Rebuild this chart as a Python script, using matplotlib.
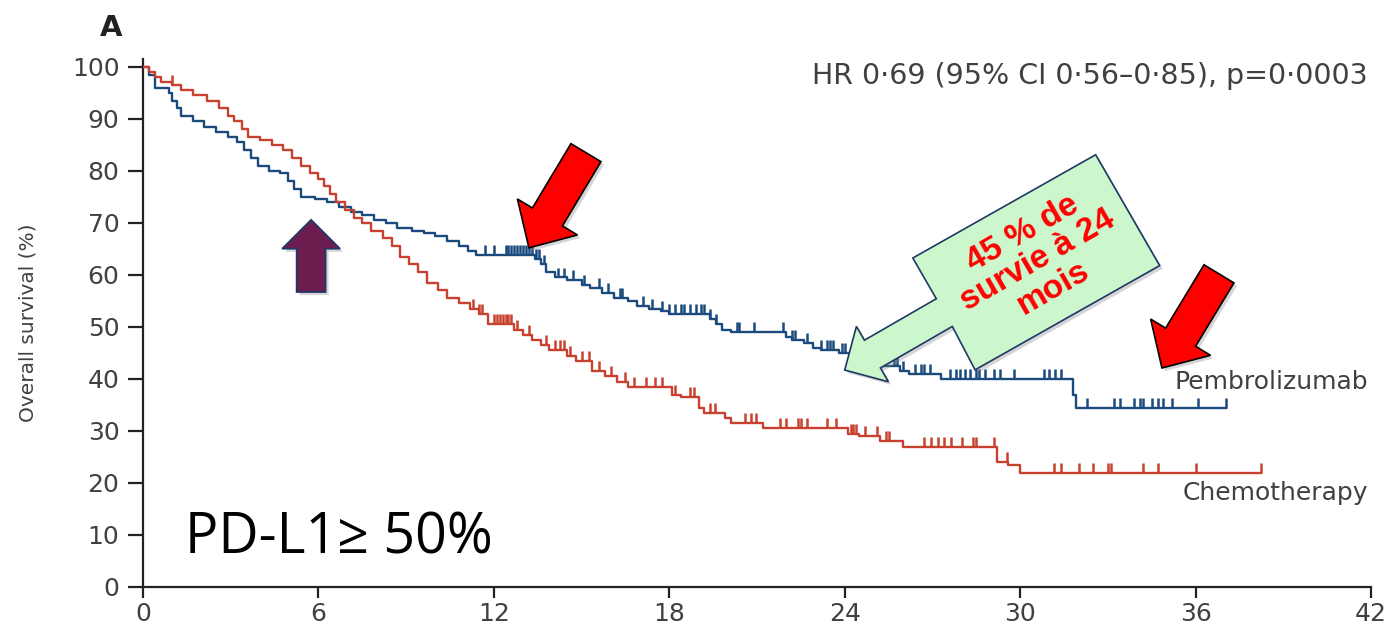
import numpy as np
import matplotlib.pyplot as plt
from matplotlib.patches import Polygon

# Kaplan-Meier steps: time (months) and survival (%) after each step
pembro_t = [0, 0.2, 0.4, 0.9, 1.0, 1.15, 1.3, 1.7, 2.1, 2.5, 2.9, 3.2, 3.45, 3.7, 3.95,
            4.3, 4.7, 4.95, 5.15, 5.4, 5.9, 6.3, 6.7, 7.1, 7.5, 7.9, 8.3, 8.7, 9.2, 9.6,
            10.0, 10.4, 10.8, 11.1, 11.4, 13.4, 13.6, 13.8, 14.1, 14.5, 15.0, 15.3, 15.7,
            16.1, 16.6, 16.9, 17.3, 17.7, 18.0, 19.4, 19.6, 19.8, 20.1, 22.0, 22.2, 22.6,
            22.9, 23.2, 23.8, 24.5, 25.0, 25.3, 25.9, 26.2, 27.3, 31.8, 31.9, 37.05]
pembro_s = [100, 98.5, 96, 95, 93.5, 92, 90.5, 89.5, 88.5, 87.5, 86.5, 85.5, 84, 82.5, 81,
            80, 79.5, 78, 76.5, 75, 74.5, 74, 73, 72, 71.5, 70.5, 70, 69, 68.5, 68,
            67.5, 66.5, 65.5, 64.5, 63.8, 63, 62, 60.5, 59.5, 59, 58, 57.5, 56.5,
            55.5, 55, 54, 53.5, 53, 52.5, 51.5, 50.5, 49.5, 49, 48, 47.5, 47,
            46, 45.5, 45, 44, 43, 42.5, 41.5, 41, 40, 37, 34.5, 34.5]
pembro_cens = [11.7, 12.0, 12.4, 12.5, 12.6, 12.7, 12.8, 12.9, 13.0, 13.1, 13.2, 13.3, 13.45,
               13.55, 13.7, 14.2, 14.4, 14.7, 15.1, 15.6, 15.9, 16.3, 16.4, 17.1, 17.4,
               17.75, 18.0, 18.2, 18.4, 18.5, 18.7, 18.9, 19.1, 19.2, 19.4, 19.6, 20.3,
               20.4, 20.9, 21.9, 22.2, 22.3, 22.7, 23.2, 23.4, 23.5, 23.6, 23.9, 24.0,
               25.7, 25.8, 26.0, 26.4, 26.6, 26.7, 26.9, 27.6, 27.8, 27.95, 28.1, 28.3,
               28.5, 28.6, 28.8, 29.1, 29.3, 29.8, 30.8, 31.0, 31.2, 31.4, 32.3, 33.2,
               33.4, 33.9, 34.1, 34.2, 34.5, 34.7, 34.9, 35.2, 36.1, 37.05]

chemo_t = [0, 0.2, 0.4, 0.6, 1.0, 1.3, 1.7, 2.2, 2.6, 2.9, 3.1, 3.4, 3.6, 4.0, 4.4, 4.8,
           5.1, 5.4, 5.7, 6.0, 6.2, 6.4, 6.6, 6.9, 7.2, 7.5, 7.8, 8.2, 8.5, 8.8, 9.1,
           9.4, 9.7, 10.1, 10.4, 10.8, 11.2, 11.5, 11.8, 12.7, 13.0, 13.3, 13.6, 13.9,
           14.5, 14.8, 15.35, 15.8, 16.2, 16.6, 18.1, 18.4, 19.0, 19.2, 19.9, 20.1,
           21.2, 24.1, 24.5, 25.2, 26.0, 29.2, 29.6, 30.0, 38.25]
chemo_s = [100, 99, 98, 97, 96.5, 95.5, 94.5, 93.5, 92, 90.5, 89.5, 88, 86.5, 86, 85, 84,
           82.5, 81, 79.5, 78.5, 77, 75.5, 74, 72.5, 71, 70, 68.5, 67, 65.5, 63.5, 62,
           60.5, 58.5, 57, 55.5, 54.5, 53.5, 52.5, 50.5, 49.5, 48.5, 47.5, 46.5, 45.5,
           44.5, 43.5, 41.5, 40.5, 39.5, 38.5, 37, 36.5, 34.5, 33.5, 32.5, 31.5,
           30.5, 29.5, 29, 28, 27, 24, 23.5, 22, 22]
chemo_cens = [1.0, 11.3, 11.5, 11.6, 12.0, 12.1, 12.2, 12.3, 12.4, 12.5, 12.6, 12.8, 13.2,
              13.8, 14.1, 14.25, 14.4, 14.6, 15.0, 15.25, 15.6, 16.0, 16.5, 16.8, 17.2,
              17.5, 17.75, 18.2, 18.7, 18.85, 19.4, 19.55, 20.6, 20.8, 20.95, 21.8, 22.0,
              22.4, 22.5, 22.7, 23.4, 23.7, 24.2, 24.3, 24.4, 24.7, 25.1, 25.4, 25.5,
              26.7, 26.95, 27.2, 27.4, 27.65, 28.0, 28.4, 28.5, 29.1, 29.55, 31.15, 31.4,
              32.0, 32.5, 33.0, 33.1, 34.2, 34.7, 36.0, 38.25]

x_ticks = [0, 6, 12, 18, 24, 30, 36, 42]
y_ticks = [0, 10, 20, 30, 40, 50, 60, 70, 80, 90, 100]

BLUE = "#1b4b7c"
RED = "#c8412f"
TXT = "#404040"
FONT = "DejaVu Sans"

fig = plt.figure(figsize=(13.95, 6.3), dpi=100)
ax = fig.add_axes([0.1025, 0.0683, 0.8803, 0.838])


def km(t, s, cens, color):
    ax.step(t, s, where="post", color=color, lw=1.7, zorder=3)
    t = np.asarray(t)
    s = np.asarray(s)
    idx = np.searchsorted(t, cens, side="right") - 1
    ax.vlines(cens, s[idx], s[idx] + 1.9, color=color, lw=1.8, zorder=3)


km(pembro_t, pembro_s, pembro_cens, BLUE)
km(chemo_t, chemo_s, chemo_cens, RED)

ax.set_xlim(0, 42)
ax.set_ylim(0, 101.5)
ax.set_xticks(x_ticks)
ax.set_yticks(y_ticks)
for side in ("top", "right"):
    ax.spines[side].set_visible(False)
for side in ("left", "bottom"):
    ax.spines[side].set_linewidth(1.6)
    ax.spines[side].set_color("#222222")
ax.tick_params(axis="y", length=11, width=1.6, color="#222222", pad=6,
               labelsize=18, labelcolor=TXT)
ax.tick_params(axis="x", length=8, width=1.6, color="#222222", pad=3,
               labelsize=18, labelcolor=TXT)
for lab in ax.get_xticklabels() + ax.get_yticklabels():
    lab.set_family(FONT)
ax.set_ylabel("Overall survival (%)", fontsize=14.5, color=TXT, family=FONT)
ax.yaxis.set_label_coords(-0.086, 0.5)

fig.text(111 / 1395, 1 - 28 / 630, "A", fontsize=21, weight="bold", color="#222222",
         family=FONT, ha="center", va="center")
ax.text(41.9, 98.3, "HR 0·69 (95% CI 0·56–0·85), p=0·0003", fontsize=20.5, color=TXT,
        family=FONT, ha="right", va="center")
ax.text(41.9, 39.5, "Pembrolizumab", fontsize=18, color=TXT, family=FONT,
        ha="right", va="center")
ax.text(41.9, 18, "Chemotherapy", fontsize=18, color=TXT, family=FONT,
        ha="right", va="center")
ax.text(1.45, 9.3, "PD-L1≥ 50%", fontsize=40, color="black", family="Open Sans",
        ha="left", va="center")

# ---- block arrows, built in display pixels around data anchors ----
to_fig = fig.transFigure.inverted()


def add_shape(pts, face, edge, lw=1.2):
    pts = np.asarray(pts)
    shadow = Polygon(to_fig.transform(pts + [3, -3]), closed=True, transform=fig.transFigure,
                     fc="#888888", ec="none", alpha=0.35, zorder=4)
    fig.add_artist(shadow)
    fig.add_artist(Polygon(to_fig.transform(pts), closed=True, transform=fig.transFigure,
                           fc=face, ec=edge, lw=lw, zorder=5))


def local_frame(tip, u, pts):
    # pts are (along, across) offsets in pixels from the tip, along = towards the tail
    u = np.asarray(u, float) / np.hypot(*u)
    n = np.array([u[1], -u[0]])
    return [tip + a * u + b * n for a, b in pts]


def block_arrow(tip_xy, tail_xy, shaft_w, head_w, head_l, face, edge):
    tip = ax.transData.transform(tip_xy)
    tail = ax.transData.transform(tail_xy)
    u = tail - tip
    L = np.hypot(*u)
    hs, hh = shaft_w / 2, head_w / 2
    pts = [(0, 0), (head_l, -hh), (head_l, -hs), (L, -hs), (L, hs), (head_l, hs), (head_l, hh)]
    add_shape(local_frame(tip, u, pts), face, edge)


fig.canvas.draw()
block_arrow((5.75, 70.6), (5.75, 56.7), 29, 58, 29, "#6b1d4f", "#1f3864")
block_arrow((13.2, 65.2), (15.15, 83.5), 35, 70, 36, "#ff0000", "black")
block_arrow((34.85, 42.1), (36.8, 60.2), 35, 70, 36, "#ff0000", "black")

# callout box with its arrow pointing at the 24-month survival
tip = ax.transData.transform((24.0, 41.7))
ang = np.deg2rad(30)
u = np.array([np.cos(ang), np.sin(ang)])
callout = [(0, 0), (32, -32), (32, -16), (115, -16), (115, -63), (325, -61),
           (325, 67), (113, 65), (115, 16), (32, 16), (32, 32)]
add_shape(local_frame(tip, u, callout), "#ccf7cc", "#1f3864")
n = np.array([u[1], -u[0]])
center = to_fig.transform(tip + 222 * u + 2 * n)
fig.text(center[0], center[1], "45 % de\nsurvie à 24\nmois", rotation=30,
         rotation_mode="anchor", ha="center", va="center", ma="center",
         fontsize=24, weight="bold", color="#ff0000", linespacing=1.0,
         family="Liberation Sans", zorder=6)

fig.savefig("out.png", dpi=100)
